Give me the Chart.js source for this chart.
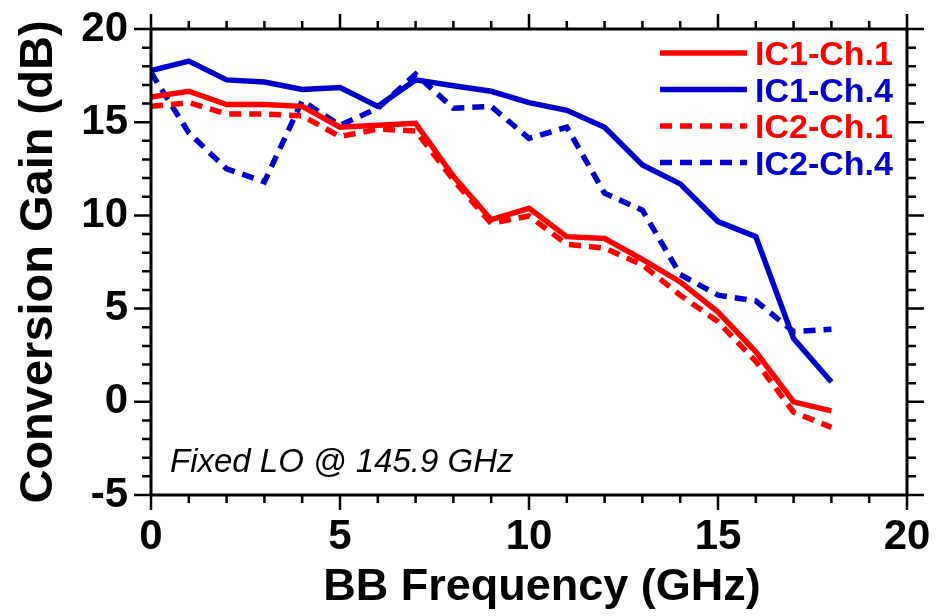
<!DOCTYPE html>
<html>
<head>
<meta charset="utf-8">
<script src="https://cdn.jsdelivr.net/npm/chart.js@4.4.1/dist/chart.umd.min.js"></script>
<style>
  html, body { margin: 0; padding: 0; background: #fff; }
</style>
</head>
<body>
<canvas id="chart" width="942" height="616"></canvas>
<script>
// BB frequency points (GHz)
const freq = [0, 1, 2, 3, 4, 5, 6, 7, 8, 9, 10, 11, 12, 13, 14, 15, 16, 17, 18];

// conversion gain (dB)
const ic1Ch1 = [16.35, 16.66, 15.95, 15.95, 15.85, 14.73, 14.84, 14.94, 12.1, 9.77, 10.38, 8.86, 8.76, 7.64, 6.43, 4.81, 2.68, 0.0, -0.49];
const ic1Ch4 = [17.77, 18.28, 17.27, 17.16, 16.76, 16.86, 15.85, 17.27, 16.96, 16.66, 16.05, 15.64, 14.73, 12.71, 11.69, 9.67, 8.86, 3.39, 1.06];
const ic2Ch1 = [15.85, 16.05, 15.44, 15.44, 15.34, 14.23, 14.63, 14.53, 11.9, 9.57, 9.97, 8.45, 8.25, 7.34, 5.72, 4.3, 2.17, -0.56, -1.37];
const ic2Ch4 = [17.67, 14.43, 12.5, 11.8, 16.15, 14.83, 15.75, 17.57, 15.75, 15.85, 14.13, 14.73, 11.19, 10.28, 6.83, 5.72, 5.41, 3.76, 3.89];

const seriesNames = ["IC1-Ch.1", "IC1-Ch.4", "IC2-Ch.1", "IC2-Ch.4"];

const RED = "#ff0000";
const BLUE = "#0000cc";
const FONT = '"Liberation Sans", Arial, sans-serif';

function pts(values) {
    return freq.map((f, i) => ({ x: f, y: values[i] }));
}

function makeSet(label, values, color, dashed) {
    return {
        label: label,
        data: pts(values),
        borderColor: color,
        backgroundColor: color,
        borderWidth: 5.5,
        borderDash: dashed ? [12, 8] : [],
        pointRadius: 0,
        tension: 0,
        fill: false
    };
}

// frame, tick marks, legend, titles, note
const decor = {
    id: "decor",
    afterDraw(chart) {
        const { ctx, chartArea: a, scales } = chart;
        const xs = scales.x, ys = scales.y;
        ctx.save();

        ctx.strokeStyle = "#000";
        ctx.lineWidth = 3;
        ctx.setLineDash([]);
        ctx.strokeRect(a.left, a.top, a.right - a.left, a.bottom - a.top);

        ctx.lineWidth = 2.5;
        ctx.beginPath();
        for (let v = 0; v <= 20; v++) {
            const px = xs.getPixelForValue(v);
            const len = v % 5 === 0 ? 15 : 8;
            ctx.moveTo(px, a.bottom); ctx.lineTo(px, a.bottom + len);
            ctx.moveTo(px, a.top); ctx.lineTo(px, a.top - len);
        }
        for (let v = -5; v <= 20; v++) {
            const py = ys.getPixelForValue(v);
            const len = v % 5 === 0 ? 17 : 9;
            ctx.moveTo(a.left, py); ctx.lineTo(a.left - len, py);
            ctx.moveTo(a.right, py); ctx.lineTo(a.right + len, py);
        }
        ctx.stroke();

        // legend
        ctx.font = "bold 34px " + FONT;
        ctx.textAlign = "left";
        ctx.textBaseline = "alphabetic";
        chart.data.datasets.forEach((ds, i) => {
            const y = 53 + i * 36.5;
            ctx.strokeStyle = ds.borderColor;
            ctx.lineWidth = 5.5;
            ctx.setLineDash(ds.borderDash);
            ctx.beginPath();
            ctx.moveTo(660, y);
            ctx.lineTo(747, y);
            ctx.stroke();
            ctx.fillStyle = ds.borderColor;
            ctx.fillText(ds.label, 755, y + 12);
        });
        ctx.setLineDash([]);

        // axis titles
        ctx.fillStyle = "#000";
        ctx.font = "bold 45px " + FONT;
        ctx.textAlign = "center";
        ctx.fillText("BB Frequency (GHz)", 542, 600);

        ctx.save();
        ctx.translate(52, (a.top + a.bottom) / 2);
        ctx.rotate(-Math.PI / 2);
        ctx.font = "bold 47px " + FONT;
        ctx.fillText("Conversion Gain (dB)", 0, 0);
        ctx.restore();

        // note
        ctx.font = "italic 33px " + FONT;
        ctx.textAlign = "left";
        ctx.fillText("Fixed LO @ 145.9 GHz", 170, 472);

        ctx.restore();
    }
};

const ctx = document.getElementById("chart").getContext("2d");

new Chart(ctx, {
    type: "line",
    data: {
        datasets: [
            makeSet(seriesNames[0], ic1Ch1, RED, false),
            makeSet(seriesNames[1], ic1Ch4, BLUE, false),
            makeSet(seriesNames[2], ic2Ch1, RED, true),
            makeSet(seriesNames[3], ic2Ch4, BLUE, true)
        ]
    },
    options: {
        responsive: false,
        animation: false,
        layout: { padding: { top: 29, right: 35, left: 0, bottom: 0 } },
        plugins: {
            legend: { display: false },
            tooltip: { enabled: false }
        },
        scales: {
            x: {
                type: "linear",
                min: 0,
                max: 20,
                ticks: {
                    stepSize: 5,
                    color: "#000",
                    padding: 17,
                    font: { family: FONT, size: 42, weight: "bold" },
                    maxRotation: 0
                },
                grid: { display: false, drawTicks: false },
                border: { display: false },
                afterFit(scale) {
                    scale.height = 121;
                    scale.paddingLeft = 0;
                    scale.paddingRight = 0;
                }
            },
            y: {
                type: "linear",
                min: -5,
                max: 20,
                ticks: {
                    stepSize: 5,
                    color: "#000",
                    padding: 23,
                    font: { family: FONT, size: 42, weight: "bold" }
                },
                grid: { display: false, drawTicks: false },
                border: { display: false },
                afterFit(scale) {
                    scale.width = 151;
                    scale.paddingTop = 0;
                    scale.paddingBottom = 0;
                }
            }
        }
    },
    plugins: [decor]
});
</script>
</body>
</html>
